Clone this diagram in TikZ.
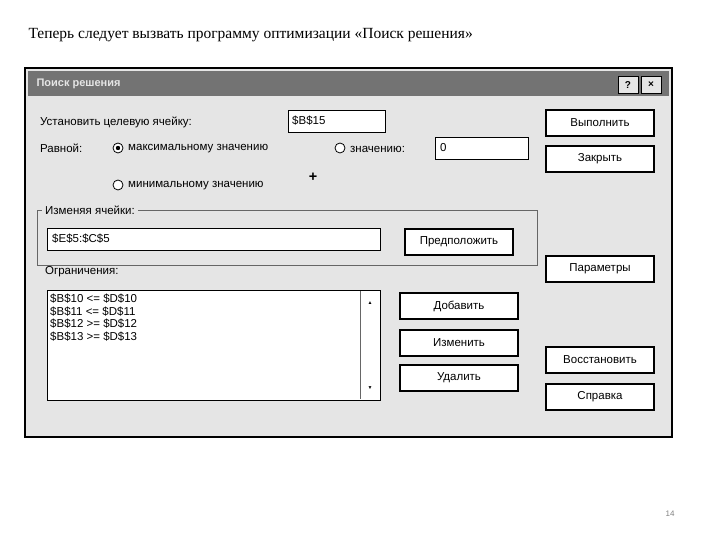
\documentclass[tikz,border=0pt]{standalone}
\usepackage{fontspec}
\setmainfont{Liberation Serif}
\newfontfamily\dlg{Liberation Sans}
\begin{document}
\begin{tikzpicture}[x=1pt,y=-1pt,
  lbl/.style={anchor=west,font=\dlg\fontsize{11.5}{13}\selectfont,inner sep=0},
  btn/.style={draw=black,line width=1.1pt,fill=white,font=\dlg\fontsize{11.5}{13}\selectfont,minimum width=108pt,minimum height=26pt,inner sep=0},
  field/.style={draw=black,line width=0.9pt,fill=white},
  radio/.style={circle,draw=black,line width=0.8pt,minimum size=10pt,inner sep=0,fill=white}]
\useasboundingbox (0,0) rectangle (720,540);
\fill[white] (0,0) rectangle (720,540);
\node[anchor=west,font=\fontsize{15.5}{18}\selectfont] (head) at (25,35) {Теперь следует вызвать программу оптимизации «Поиск решения»};
% dialog
\draw[line width=1.2pt,fill=black!10] (25,68) rectangle (672,437);
\fill[black!55] (28,71) rectangle (669,96);
\node[anchor=west,font=\dlg\bfseries\fontsize{11}{13}\selectfont,text=black!10] (title) at (33,84) {Поиск решения};
\node[draw,fill=black!10,minimum width=20pt,minimum height=17pt,font=\dlg\bfseries] (q) at (628,85) {?};
\node[draw,fill=black!10,minimum width=20pt,minimum height=17pt,font=\dlg\bfseries] (x) at (651,85) {×};
\node[lbl] (l1) at (40,122) {Установить целевую ячейку:};
\draw[field] (288,110) rectangle (385,132);
\node[lbl] (f1) at (292,121) {\$B\$15};
\node[lbl] (l2) at (40,148) {Равной:};
\node[radio] (r1) at (118,148) {};
\fill (r1) circle (2.2pt);
\node[lbl] (t1) at (128,149) {максимальному значению};
\node[radio] (r2) at (340,148) {};
\node[lbl] (t2) at (350,149) {значению:};
\draw[field] (435,137) rectangle (528,159);
\node[lbl] (f2) at (440,148) {0};
\node[radio] (r3) at (118,185) {};
\node[lbl] (t3) at (128,186) {минимальному значению};
\node[font=\dlg\bfseries\Large] (cur) at (313,177) {+};
% changing cells group
\draw[black!60,line width=0.8pt] (37,210) rectangle (537,265);
\node[lbl,fill=black!10,inner xsep=3pt] (l3) at (42,210) {Изменяя ячейки:};
\draw[field] (47,228) rectangle (380,250);
\node[lbl] (f3) at (52,239) {\$E\$5:\$C\$5};
\node[btn] (guess) at (459,242) {Предположить};
\node[lbl] (l4) at (45,272) {Ограничения:};
\draw[field] (47,290) rectangle (380,400);
\draw[black!60] (360,291) -- (360,399);
\node[font=\tiny] (up) at (370,303) {▲};
\node[font=\tiny] (dn) at (370,388) {▼};
\node[anchor=north west,align=left,font=\dlg\fontsize{11.5}{12.5}\selectfont,inner sep=0] (lst) at (50,294) {\$B\$10 <= \$D\$10\\\$B\$11 <= \$D\$11\\\$B\$12 >= \$D\$12\\\$B\$13 >= \$D\$13};
\node[btn,minimum width=118pt] (add) at (459,306) {Добавить};
\node[btn,minimum width=118pt] (chg) at (459,343) {Изменить};
\node[btn,minimum width=118pt] (del) at (459,378) {Удалить};
\node[btn] (run) at (600,123) {Выполнить};
\node[btn] (cls) at (600,159) {Закрыть};
\node[btn] (par) at (600,269) {Параметры};
\node[btn] (rst) at (600,360) {Восстановить};
\node[btn] (hlp) at (600,397) {Справка};
\node[font=\dlg\fontsize{8}{10}\selectfont,text=black!50] (pg) at (670,514) {14};
\end{tikzpicture}
\end{document}
